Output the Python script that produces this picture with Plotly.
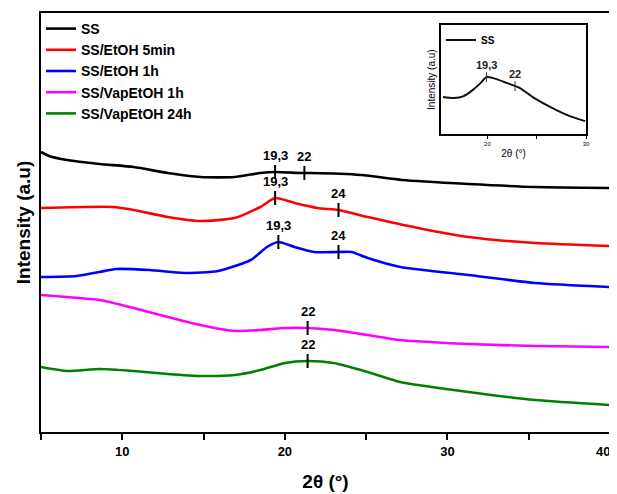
import numpy as np
import plotly.graph_objects as go

# ---- data (intensity in arbitrary units) ----
ss_x = [5, 5.5, 6.6, 8.6, 10.7, 12.8, 14.8, 16.9, 18.5, 19.4, 21, 21.6, 24.7, 27.2, 31.3, 35.4, 40]
ss_y = [280, 276, 272, 268, 265, 259, 255, 255, 259, 260, 259, 259, 257, 252, 248, 245, 244]

et5_x = [5, 9.4, 10.7, 12.8, 14.8, 16.9, 18.5, 19.4, 20.6, 22, 23.3, 25.1, 28.2, 31.3, 35.4, 40]
et5_y = [224, 225, 222, 215, 211, 214, 225, 234, 229, 224, 222, 215, 204, 195, 189, 186]

et1_x = [5, 7.2, 8.6, 9.6, 11.7, 13.8, 15.9, 17.9, 18.9, 19.6, 20.6, 21.8, 23.3, 24.1, 25.1, 27.1, 31.3, 35.4, 40]
et1_y = [155, 156, 160, 163, 162, 159, 161, 172, 185, 190, 185, 180, 180, 180, 174, 165, 157, 149, 145]

vap1_x = [5, 6.6, 8.6, 10.7, 12.8, 14.8, 16.9, 18.5, 20, 21.4, 23, 25.1, 27.1, 31.3, 35.4, 40]
vap1_y = [137, 135, 132, 124, 115, 107, 101, 102, 104, 104, 102, 97, 92, 88, 86, 85]

vap24_x = [5, 6.6, 8.6, 10.7, 12.8, 14.8, 16.9, 18.5, 20, 21.4, 23, 25.1, 27.1, 31.3, 35.4, 40]
vap24_y = [65, 61, 63, 61, 58, 56, 57, 62, 69, 71, 69, 60, 50, 40, 32, 27]

inset_x = [15.5, 16.6, 17.6, 18.5, 19.3, 19.9, 20.6, 22, 23.3, 24.6, 26.4, 28.1, 29.9]
inset_y = [37, 36, 38, 44, 51, 57, 56, 51, 46, 37, 27, 19, 13]

series_names = ["SS", "SS/EtOH 5min", "SS/EtOH 1h", "SS/VapEtOH 1h", "SS/VapEtOH 24h"]
series_colors = ["#000000", "#ff0000", "#0000ff", "#ff00ff", "#008000"]
series_x = [ss_x, et5_x, et1_x, vap1_x, vap24_x]
series_y = [ss_y, et5_y, et1_y, vap1_y, vap24_y]

peak_pos = [[19.4, 21.2], [19.4, 23.3], [19.6, 23.3], [21.4], [21.4]]
peak_txt = [["19,3", "22"], ["19,3", "24"], ["19,3", "24"], ["22"], ["22"]]

inset_peak_pos = [19.9, 22.8]
inset_peak_txt = ["19,3", "22"]

x_ticks = [5, 10, 15, 20, 25, 30, 35, 40]
x_ticktext = ["", "10", "", "20", "", "30", "", "40"]
inset_ticks = [15, 20, 25, 30]
inset_ticktext = ["", "20", "", "30"]

FONT = "Arial, Liberation Sans, sans-serif"

fig = go.Figure()
for name, col, xs, ys in zip(series_names, series_colors, series_x, series_y):
    fig.add_trace(go.Scatter(x=xs, y=ys, mode="lines", name=name,
                             line=dict(color=col, width=2.6, shape="spline", smoothing=0.6),
                             legend="legend"))

# peak markers
for xs, ys, pos, txt in zip(series_x, series_y, peak_pos, peak_txt):
    for p, t in zip(pos, txt):
        yc = float(np.interp(p, xs, ys))
        fig.add_shape(type="line", x0=p, x1=p, y0=yc - 7, y1=yc + 7,
                      xref="x", yref="y", line=dict(color="black", width=2))
        fig.add_annotation(x=p, y=yc + 7, xref="x", yref="y", text=f"<b>{t}</b>",
                           showarrow=False, yanchor="bottom", yshift=0,
                           font=dict(family=FONT, size=13, color="black"))

# inset
fig.add_trace(go.Scatter(x=inset_x, y=inset_y, mode="lines", name="SS",
                         line=dict(color="#111111", width=2, shape="spline", smoothing=0.6),
                         xaxis="x2", yaxis="y2", legend="legend2"))
for p, t in zip(inset_peak_pos, inset_peak_txt):
    yc = float(np.interp(p, inset_x, inset_y))
    fig.add_shape(type="line", x0=p, x1=p, y0=yc - 5, y1=yc + 5,
                  xref="x2", yref="y2", line=dict(color="#333333", width=1))
    fig.add_annotation(x=p, y=yc + 3, xref="x2", yref="y2", text=f"<b>{t}</b>",
                       showarrow=False, yanchor="bottom", yshift=1,
                       font=dict(family=FONT, size=11, color="#222222"))

# last tick label (at the very edge) drawn as an annotation so it stays visible
edge_ticktext = list(x_ticktext)
edge_label = edge_ticktext[-1]
edge_ticktext[-1] = ""
fig.add_annotation(x=x_ticks[-1], y=0, xref="x", yref="paper", text=f"<b>{edge_label}</b>",
                   showarrow=False, yanchor="top", xanchor="right", yshift=-10, xshift=2,
                   font=dict(family=FONT, size=13, color="black"))

# the page body adds an 8px offset, so the figure is sized to the remaining window
fig.update_layout(
    width=612, height=486,
    margin=dict(l=33, r=10, t=5, b=62),
    paper_bgcolor="white", plot_bgcolor="white",
    font=dict(family=FONT, color="black"),
    xaxis=dict(range=[5, 40], tickvals=x_ticks, ticktext=edge_ticktext, automargin=False,
               ticks="outside", ticklen=6, tickwidth=2, tickcolor="black",
               showline=True, linewidth=2, linecolor="black", mirror=True,
               showgrid=False, zeroline=False,
               tickfont=dict(family=FONT, size=13, color="black", weight="bold"),
               title=dict(text="<b>2θ (°)</b>", font=dict(family=FONT, size=19), standoff=17)),
    yaxis=dict(range=[0, 419], showticklabels=False, ticks="", automargin=False,
               showline=True, linewidth=2, linecolor="black", mirror=True,
               showgrid=False, zeroline=False,
               title=dict(text="<b>Intensity (a.u)</b>", font=dict(family=FONT, size=19), standoff=3)),
    xaxis2=dict(domain=[0.703, 0.958], anchor="y2", range=[15.3, 30], automargin=False,
                tickvals=inset_ticks, ticktext=inset_ticktext,
                ticks="outside", ticklen=3, tickwidth=1, tickcolor="black",
                showline=True, linewidth=1.5, linecolor="black", mirror=True,
                showgrid=False, zeroline=False,
                tickfont=dict(family=FONT, size=6, color="black"),
                title=dict(text="2θ (°)", font=dict(family=FONT, size=10), standoff=4)),
    yaxis2=dict(domain=[0.711, 0.971], anchor="x2", range=[0, 109], automargin=False,
                showticklabels=False, ticks="",
                showline=True, linewidth=1.5, linecolor="black", mirror=True,
                showgrid=False, zeroline=False,
                title=dict(text="Intensity (a.u)", font=dict(family=FONT, size=10), standoff=2)),
    legend=dict(x=0.0, y=1.0, xanchor="left", yanchor="top",
                bgcolor="rgba(0,0,0,0)", borderwidth=0, tracegroupgap=0,
                itemwidth=30,
                font=dict(family=FONT, size=14, color="black", weight="bold")),
    legend2=dict(x=0.703, y=0.97, xanchor="left", yanchor="top",
                 bgcolor="rgba(0,0,0,0)", borderwidth=0, itemwidth=30,
                 font=dict(family=FONT, size=10, color="black", weight="bold")),
    showlegend=True,
)

fig.write_html("out.html")
